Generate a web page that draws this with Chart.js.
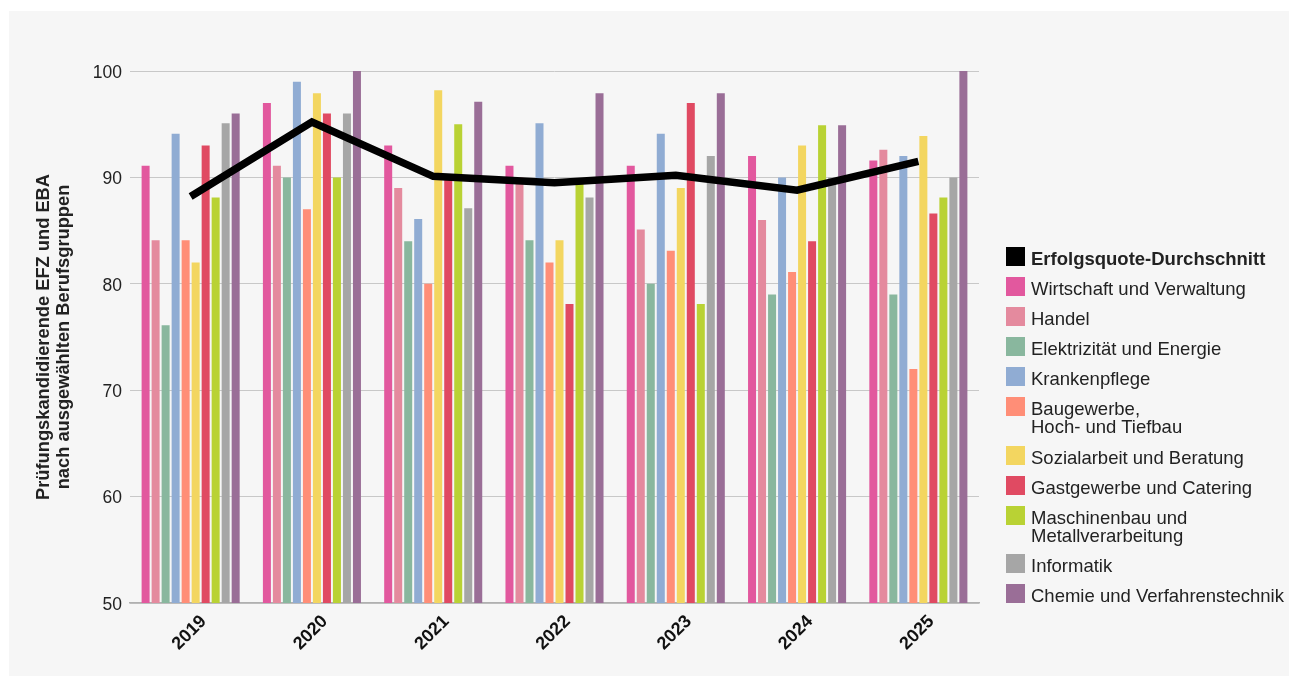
<!DOCTYPE html>
<html>
<head>
<meta charset="utf-8">
<script src="https://cdn.jsdelivr.net/npm/chart.js@4"></script>
<style>
  html, body { margin: 0; padding: 0; background: #ffffff; width: 1298px; height: 684px; overflow: hidden; }
  #panel { position: absolute; left: 9px; top: 11px; width: 1280px; height: 665px; background: #f6f6f6; }
  #chart { position: absolute; left: 0; top: 0; }
  #legend { position: absolute; left: 997px; top: 236px; font-family: "Liberation Sans", Arial, sans-serif; color: #222; }
  #legend ul { list-style: none; margin: 0; padding: 0; }
  #legend li { display: flex; align-items: flex-start; margin: 0 0 9.1px 0; }
  #legend .box { width: 19px; height: 19px; flex: none; margin-right: 6px; }
  #legend .txt { font-size: 18.5px; line-height: 18px; padding-top: 3px; white-space: pre-line; }
  #legend li.bold .txt { font-weight: bold; }
</style>
</head>
<body>
<div id="panel">
  <canvas id="chart" width="1280" height="665"></canvas>
  <div id="legend"></div>
</div>
<script>
// ---- data ----
const years = ['2019', '2020', '2021', '2022', '2023', '2024', '2025'];
const avgLabel = 'Erfolgsquote-Durchschnitt';
const avgRate = [88.2, 95.2, 90.1, 89.5, 90.2, 88.8, 91.5];

const seriesNames = [
  'Wirtschaft und Verwaltung',
  'Handel',
  'Elektrizität und Energie',
  'Krankenpflege',
  'Baugewerbe,\nHoch- und Tiefbau',
  'Sozialarbeit und Beratung',
  'Gastgewerbe und Catering',
  'Maschinenbau und\nMetallverarbeitung',
  'Informatik',
  'Chemie und Verfahrenstechnik'
];
const wirtschaft = [91.1, 97.0, 93.0, 91.1, 91.1, 92.0, 91.6];
const handel     = [84.1, 91.1, 89.0, 90.0, 85.1, 86.0, 92.6];
const elektro    = [76.1, 90.0, 84.0, 84.1, 80.0, 79.0, 79.0];
const kranken    = [94.1, 99.0, 86.1, 95.1, 94.1, 90.0, 92.0];
const bau        = [84.1, 87.0, 80.0, 82.0, 83.1, 81.1, 72.0];
const sozial     = [82.0, 97.9, 98.2, 84.1, 89.0, 93.0, 93.9];
const gast       = [93.0, 96.0, 90.0, 78.1, 97.0, 84.0, 86.6];
const maschinen  = [88.1, 90.0, 95.0, 89.6, 78.1, 94.9, 88.1];
const informatik = [95.1, 96.0, 87.1, 88.1, 92.0, 90.0, 90.0];
const chemie     = [96.0, 100.0, 97.1, 97.9, 97.9, 94.9, 100.0];
const seriesValues = [wirtschaft, handel, elektro, kranken, bau, sozial, gast, maschinen, informatik, chemie];

const yTicks = [50, 60, 70, 80, 90, 100];
const yTitle = ['Prüfungskandidierende EFZ und EBA', 'nach ausgewählten Berufsgruppen'];

// ---- styles ----
const seriesColors = ['#e2589e', '#e48a9e', '#89b79e', '#90acd3', '#ff8e77', '#f3d660', '#e04a62', '#b9d234', '#a6a6a6', '#9a6e97'];
const FONT = '"Liberation Sans", Arial, sans-serif';

const datasets = [{
  type: 'line',
  label: avgLabel,
  data: avgRate,
  borderColor: '#000000',
  backgroundColor: '#000000',
  borderWidth: 7.5,
  pointRadius: 0,
  tension: 0,
  borderJoinStyle: 'miter',
  order: 0
}].concat(seriesNames.map((name, i) => ({
  type: 'bar',
  label: name,
  data: seriesValues[i],
  backgroundColor: seriesColors[i],
  borderWidth: 0,
  barPercentage: 0.8,
  categoryPercentage: 0.825,
  order: 1
})));

const htmlLegend = {
  id: 'htmlLegend',
  afterUpdate(chart) {
    const host = document.getElementById('legend');
    host.innerHTML = '';
    const ul = document.createElement('ul');
    chart.data.datasets.forEach((ds, i) => {
      const li = document.createElement('li');
      if (i === 0) li.className = 'bold';
      const box = document.createElement('span');
      box.className = 'box';
      box.style.background = ds.type === 'line' ? ds.borderColor : ds.backgroundColor;
      const txt = document.createElement('span');
      txt.className = 'txt';
      txt.textContent = ds.label;
      li.appendChild(box);
      li.appendChild(txt);
      ul.appendChild(li);
    });
    host.appendChild(ul);
  }
};

new Chart(document.getElementById('chart'), {
  data: { labels: years, datasets: datasets },
  options: {
    responsive: false,
    animation: false,
    layout: { padding: { left: 24, right: 310, top: 60, bottom: 0 } },
    plugins: {
      legend: { display: false },
      tooltip: { enabled: false }
    },
    scales: {
      x: {
        grid: { display: false },
        border: { display: true, color: '#b0b0b0', width: 1.5 },
        ticks: {
          color: '#111111',
          font: { family: FONT, size: 18, weight: 'bold' },
          maxRotation: 45,
          minRotation: 45,
          padding: 0,
          labelOffset: 13
        },
        afterFit(scale) { scale.height = 73; }
      },
      y: {
        min: 50,
        max: 100,
        afterBuildTicks(scale) { scale.ticks = yTicks.map(v => ({ value: v })); },
        grid: { color: '#c8c8c8', lineWidth: 1, drawTicks: false },
        border: { display: false },
        ticks: {
          color: '#222222',
          font: { family: FONT, size: 17.5 },
          padding: 8,
          labelOffset: 2
        },
        title: {
          display: true,
          text: yTitle,
          color: '#222222',
          font: { family: FONT, size: 18.3, weight: 'bold', lineHeight: 1.1 },
          padding: { top: 1, bottom: 0 }
        },
        afterFit(scale) { scale.width = 97; }
      }
    }
  },
  plugins: [htmlLegend]
});
</script>
</body>
</html>
